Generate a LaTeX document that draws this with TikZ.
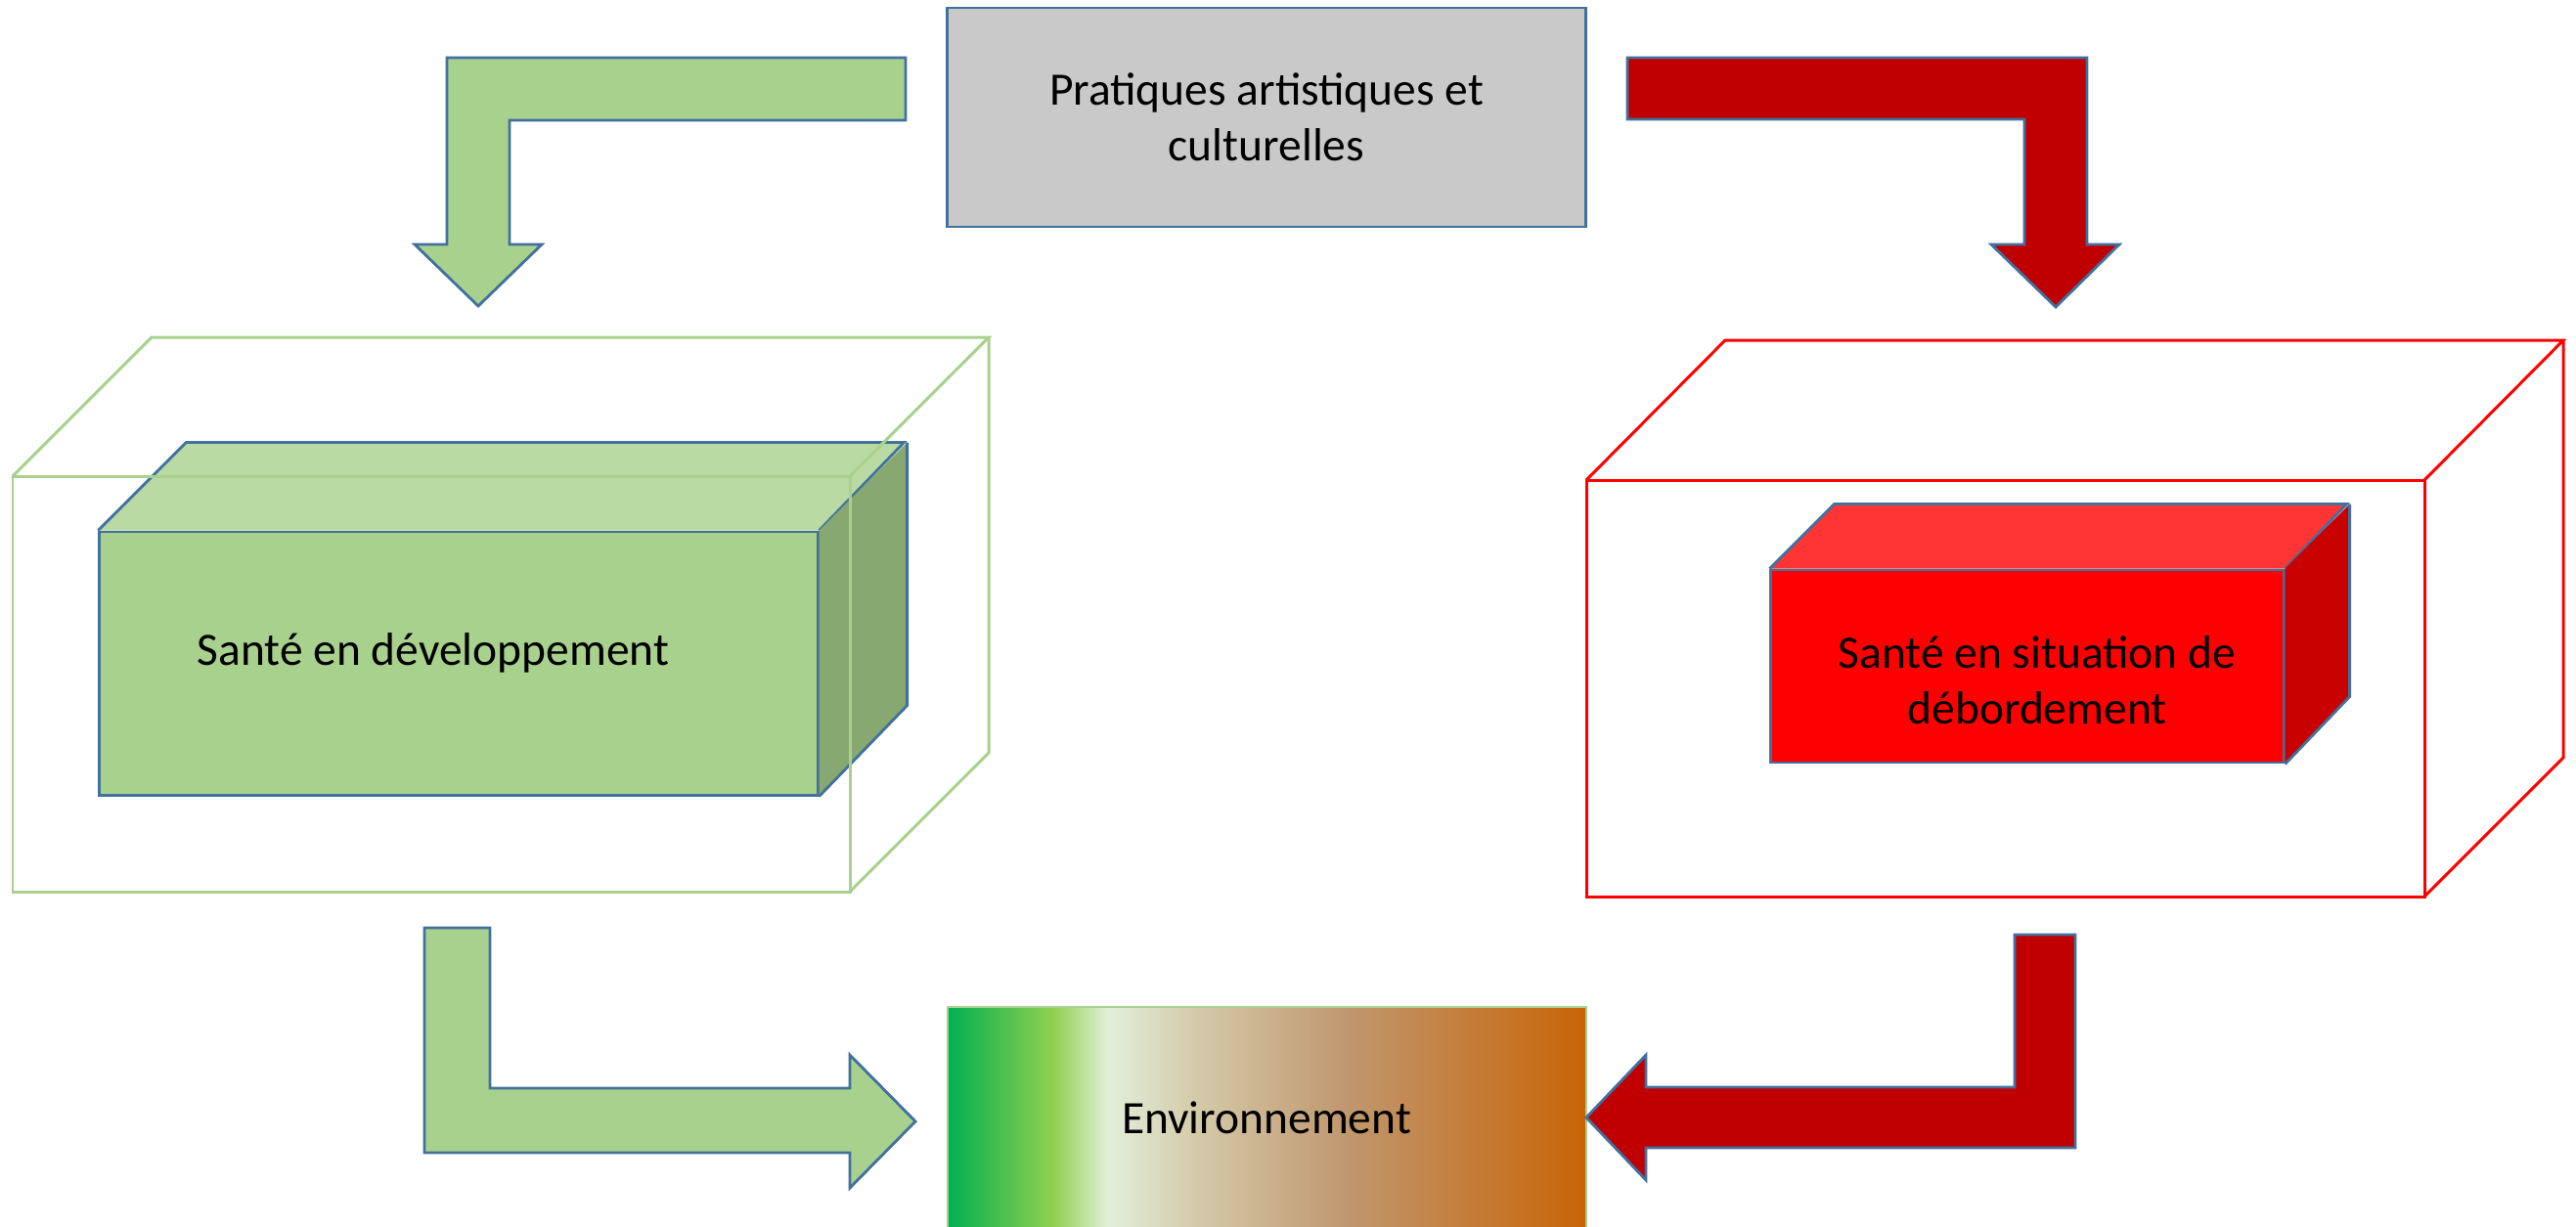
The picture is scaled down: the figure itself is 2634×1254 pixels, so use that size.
\documentclass[tikz,border=0pt]{standalone}
\usepackage{fontspec}
\setmainfont{Carlito}
\usetikzlibrary{calc}
\definecolor{bord}{HTML}{41719C}
\definecolor{grayfill}{HTML}{C9C9C9}
\definecolor{greenfill}{HTML}{A9D18E}
\definecolor{greentop}{HTML}{B9DAA3}
\definecolor{greenside}{HTML}{87A870}
\definecolor{darkred}{HTML}{C00000}
\definecolor{redfront}{HTML}{FF0000}
\definecolor{redtop}{HTML}{FF3535}
\definecolor{redside}{HTML}{C80000}
\definecolor{envA}{RGB}{0,176,80}
\definecolor{envB}{RGB}{146,208,80}
\definecolor{envC}{RGB}{226,239,218}
\definecolor{envD}{RGB}{212,203,170}
\definecolor{envE}{RGB}{192,152,112}
\definecolor{envF}{RGB}{200,100,5}
\pgfdeclarehorizontalshading{envshade}{100bp}{color(0bp)=(envA); color(25bp)=(envA); color(33.3bp)=(envB); color(37.6bp)=(envC); color(44.3bp)=(envD); color(55.9bp)=(envE); color(75bp)=(envF); color(100bp)=(envF)}
\begin{document}
\begin{tikzpicture}[x=0.01cm,y=-0.01cm,
  txt/.style={font=\fontsize{13.5}{16.2}\selectfont, align=center, inner sep=0pt, text=black},
  blockarrow/.style={draw=bord, line width=0.8pt, line join=miter},
  face/.style={draw=bord, line width=0.8pt, line join=miter},
  wiregreen/.style={draw=greenfill, line width=0.85pt, line join=miter},
  wirered/.style={draw=redfront, line width=0.85pt, line join=miter}]
\useasboundingbox (0,0) rectangle (2634,1254);
\clip (0,0) rectangle (2634,1254);

% top box
\node[draw=bord, fill=grayfill, line width=0.8pt, minimum width=6.52cm, minimum height=2.24cm, inner sep=0pt] (prat) at (1295,120) {};
\node[txt] (prattext) at (prat.center) {Pratiques artistiques et\\culturelles};

% green inner cube
\node[face, fill=greenfill, minimum width=7.34cm, minimum height=2.69cm, inner sep=0pt] (devfront) at (469,678.5) {};
\fill[greentop] (devfront.north west) -- ++(90,-90) -- ++(734,0) -- (devfront.north east) -- cycle;
\draw[face] (devfront.north west) -- ++(90,-90) -- ++(734,0) -- (devfront.north east);
\fill[greenside] (devfront.north east) -- ++(90,-90) -- ++(0,269) -- (devfront.south east) -- cycle;
\draw[face] (devfront.north east) ++(90,-90) -- ++(0,269) -- (devfront.south east);
\node[txt] (devtext) at (443,668) {Santé en développement};

% green outer wireframe
\coordinate (gA) at (13,487);
\coordinate (gB) at (869,912);
\draw[wiregreen] (gA) rectangle (gB);
\draw[wiregreen] (gA) -- ++(142,-142) -- (1011,345) -- (869,487);
\draw[wiregreen] (1011,345) -- (1011,770) -- (gB);

% red outer wireframe
\coordinate (rA) at (1622,491);
\coordinate (rB) at (2479,917);
\draw[wirered] (rA) rectangle (rB);
\draw[wirered] (rA) -- ++(142,-143) -- (2621,348) -- (2479,491);
\draw[wirered] (2621,348) -- (2621,775) -- (rB);

% red inner cube
\node[face, fill=redfront, minimum width=5.24cm, minimum height=1.97cm, inner sep=0pt] (debfront) at (2073,681.5) {};
\fill[redtop] (debfront.north west) -- ++(66,-66) -- ++(524,0) -- (debfront.north east) -- cycle;
\draw[face] (debfront.north west) -- ++(66,-66) -- ++(524,0) -- (debfront.north east);
\fill[redside] (debfront.north east) -- ++(66,-66) -- ++(0,197) -- (debfront.south east) -- cycle;
\draw[face] (debfront.north east) ++(66,-66) -- ++(0,197) -- (debfront.south east);
\node[txt] (debtext) at (2083,696) {Santé en situation de\\débordement};

% environment box
\node[draw=greenfill, line width=0.6pt, shading=envshade, minimum width=6.53cm, minimum height=2.30cm, inner sep=0pt] (env) at (1295.5,1145) {};
\node[txt] (envtext) at (1295,1143) {Environnement};

% green arrow top
\draw[blockarrow, fill=greenfill] (926,59) -- (457,59) -- (457,250) -- (424,250) -- (489,313) -- (554,250) -- (521,250) -- (521,123) -- (926,123) -- cycle;
% red arrow top
\draw[blockarrow, fill=darkred] (1664,59) -- (2134,59) -- (2134,250) -- (2167,250) -- (2102,314) -- (2036,250) -- (2070,250) -- (2070,122) -- (1664,122) -- cycle;
% green arrow bottom
\draw[blockarrow, fill=greenfill] (434,949) -- (501,949) -- (501,1113) -- (869,1113) -- (869,1079) -- (936,1147) -- (869,1215) -- (869,1179) -- (434,1179) -- cycle;
% red arrow bottom
\draw[blockarrow, fill=darkred] (2122,956) -- (2060,956) -- (2060,1112) -- (1683,1112) -- (1683,1079) -- (1622,1143) -- (1683,1207) -- (1683,1174) -- (2122,1174) -- cycle;
\end{tikzpicture}
\end{document}
